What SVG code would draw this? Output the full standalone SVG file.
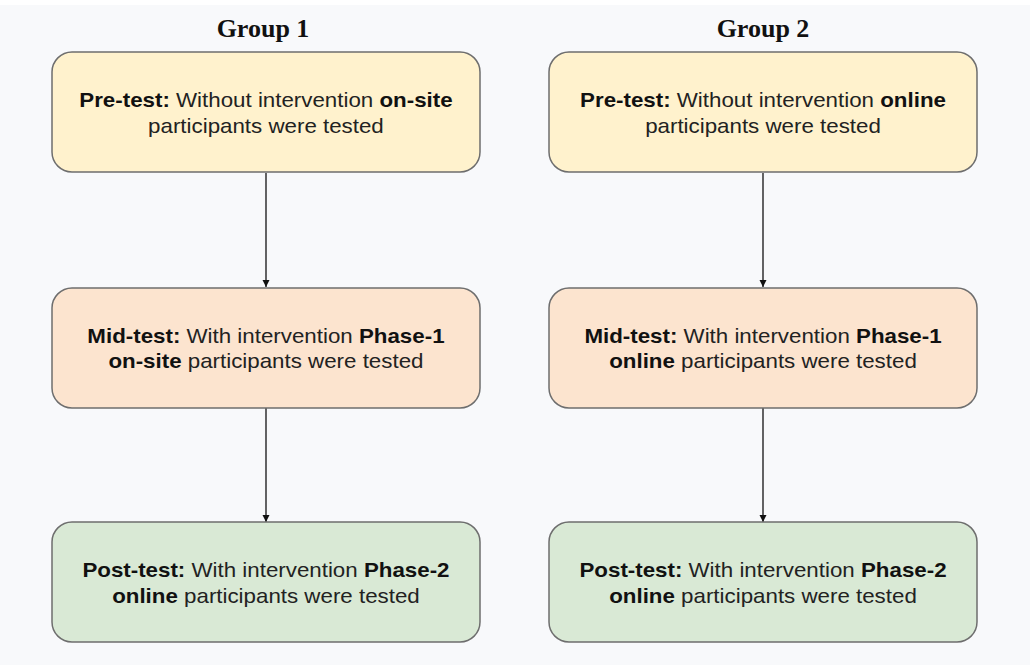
<svg xmlns="http://www.w3.org/2000/svg" width="1030" height="665" viewBox="0 0 1030 665">
  <defs>
    <marker id="arrow" viewBox="0 0 10 10" refX="10" refY="5" markerWidth="7" markerHeight="8" markerUnits="userSpaceOnUse" orient="auto">
      <path d="M0,0 L10,5 L0,10 z" fill="#111"/>
    </marker>
    <style>
      .box { stroke: #6e6e6e; stroke-width: 1.5; }
      .pre { fill: #fff2cd; }
      .mid { fill: #fce4cf; }
      .post { fill: #d9e9d5; }
      .label { font-family: "Liberation Sans", Arial, sans-serif; font-size: 20px; fill: #222; text-anchor: middle; }
      .label .b { font-weight: bold; fill: #111; }
      .title { font-family: "Liberation Serif", "Times New Roman", serif; font-size: 26px; font-weight: bold; fill: #111; text-anchor: middle; }
      .link { stroke: #111; stroke-width: 1.3; fill: none; }
    </style>
  </defs>

  <rect x="0" y="0" width="1030" height="665" fill="#f8f9fb"/>
  <rect x="0" y="0" width="1030" height="5" fill="#ffffff"/>

  <text class="title" x="263" y="37">Group 1</text>
  <text class="title" x="763" y="37">Group 2</text>

  <g id="connectors">
    <line class="link" x1="266" y1="173" x2="266" y2="287" marker-end="url(#arrow)"/>
    <line class="link" x1="266" y1="408" x2="266" y2="522" marker-end="url(#arrow)"/>
    <line class="link" x1="763" y1="173" x2="763" y2="287" marker-end="url(#arrow)"/>
    <line class="link" x1="763" y1="408" x2="763" y2="522" marker-end="url(#arrow)"/>
  </g>

  <!-- left column: text widened slightly around x=266 -->
  <g id="g1-pre">
    <rect class="box pre" x="52" y="52" width="428" height="120" rx="20"/>
    <g transform="matrix(1.116,0,0,1,-30.9,0)">
      <text class="label" x="266" y="107"><tspan class="b">Pre-test:</tspan> Without intervention <tspan class="b">on-site</tspan></text>
      <text class="label" x="266" y="133">participants were tested</text>
    </g>
  </g>
  <g id="g1-mid">
    <rect class="box mid" x="52" y="288" width="428" height="120" rx="20"/>
    <g transform="matrix(1.116,0,0,1,-30.9,0)">
      <text class="label" x="266" y="343"><tspan class="b">Mid-test:</tspan> With intervention <tspan class="b">Phase-1</tspan></text>
      <text class="label" x="266" y="368"><tspan class="b">on-site</tspan> participants were tested</text>
    </g>
  </g>
  <g id="g1-post">
    <rect class="box post" x="52" y="522" width="428" height="120" rx="20"/>
    <g transform="matrix(1.116,0,0,1,-30.9,0)">
      <text class="label" x="266" y="577"><tspan class="b">Post-test:</tspan> With intervention <tspan class="b">Phase-2</tspan></text>
      <text class="label" x="266" y="603"><tspan class="b">online</tspan> participants were tested</text>
    </g>
  </g>

  <!-- right column: same widening around x=763 -->
  <g id="g2-pre">
    <rect class="box pre" x="549" y="52" width="428" height="120" rx="20"/>
    <g transform="matrix(1.116,0,0,1,-88.5,0)">
      <text class="label" x="763" y="107"><tspan class="b">Pre-test:</tspan> Without intervention <tspan class="b">online</tspan></text>
      <text class="label" x="763" y="133">participants were tested</text>
    </g>
  </g>
  <g id="g2-mid">
    <rect class="box mid" x="549" y="288" width="428" height="120" rx="20"/>
    <g transform="matrix(1.116,0,0,1,-88.5,0)">
      <text class="label" x="763" y="343"><tspan class="b">Mid-test:</tspan> With intervention <tspan class="b">Phase-1</tspan></text>
      <text class="label" x="763" y="368"><tspan class="b">online</tspan> participants were tested</text>
    </g>
  </g>
  <g id="g2-post">
    <rect class="box post" x="549" y="522" width="428" height="120" rx="20"/>
    <g transform="matrix(1.116,0,0,1,-88.5,0)">
      <text class="label" x="763" y="577"><tspan class="b">Post-test:</tspan> With intervention <tspan class="b">Phase-2</tspan></text>
      <text class="label" x="763" y="603"><tspan class="b">online</tspan> participants were tested</text>
    </g>
  </g>
</svg>
